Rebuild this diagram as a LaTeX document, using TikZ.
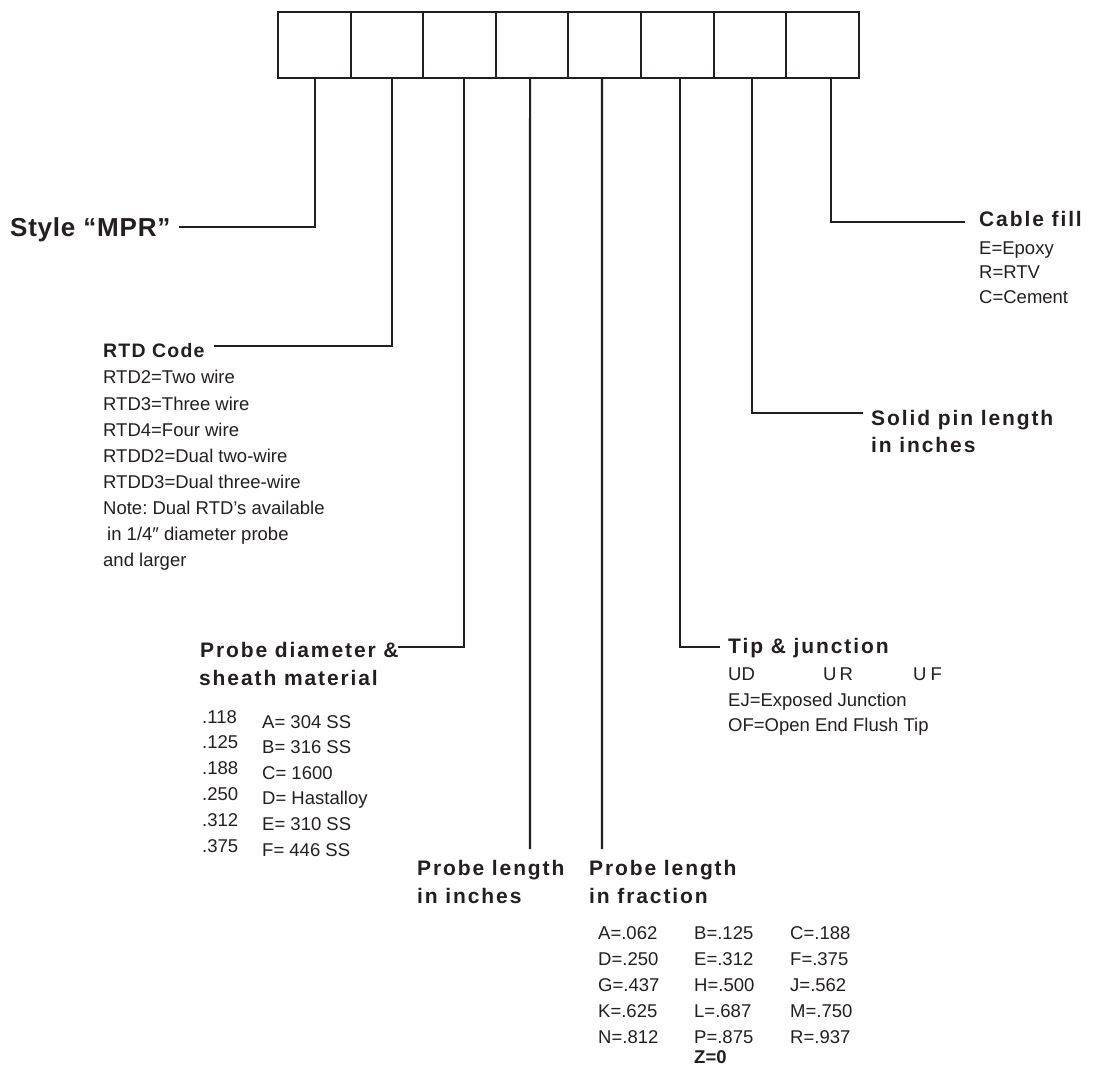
\documentclass[tikz,border=0pt]{standalone}
\usepackage{fontspec}
\setmainfont{Liberation Sans}
\newfontfamily\hdfont[LetterSpace=9]{Liberation Sans}
\newfontfamily\rtdfont[LetterSpace=6]{Liberation Sans}
\newfontfamily\mprfont[LetterSpace=3]{Liberation Sans}
\definecolor{ink}{RGB}{35,31,32}
\frenchspacing
\tikzset{
  hd/.style={inner sep=0pt, anchor=base west, text=ink, font=\hdfont\bfseries\fontsize{21}{21}\selectfont},
  tx/.style={inner sep=0pt, anchor=base west, text=ink, font=\fontsize{18.5}{18.5}\selectfont},
  wire/.style={draw=ink, line width=2.2pt, line join=miter},
  cell/.style={draw=ink, line width=2pt, minimum width=72.6pt, minimum height=66pt, inner sep=0pt, outer sep=0pt}
}
\begin{document}
\begin{tikzpicture}[x=1pt,y=-1pt]
\useasboundingbox[fill=white] (0,0) rectangle (1093,1067);
% code boxes
\foreach \i in {1,...,8}{
  \node[cell] (b\i) at ({278+72.6*(\i-0.5)}, 45) {};
}
% headings
\node[inner sep=0pt, anchor=base west, text=ink, font=\mprfont\bfseries\fontsize{26}{26}\selectfont] (mpr) at (10,237) {Style “MPR”};
\node[inner sep=0pt, anchor=base west, text=ink, font=\rtdfont\bfseries\fontsize{19.5}{19.5}\selectfont] (rtd) at (103,358) {RTD Code};
\node[hd] (pd) at (200,657) {Probe diameter \&};
\node[hd] (pd2) at (199,685) {sheath material};
\node[hd] (pli) at (417,875) {Probe length};
\node[hd] (pli2) at (417,903) {in inches};
\node[hd] (plf) at (589,875) {Probe length};
\node[hd] (plf2) at (589,903) {in fraction};
\node[hd] (tip) at (728,653) {Tip \& junction};
\node[hd] (sp) at (871,425) {Solid pin length};
\node[hd] (sp2) at (871,453) {in inches};
\node[hd] (cf) at (979,227) {Cable fill};
% RTD code list
\node[tx] (r1) at (103,384) {RTD2=Two wire};
\node[tx] (r2) at (103,410) {RTD3=Three wire};
\node[tx] (r3) at (103,436) {RTD4=Four wire};
\node[tx] (r4) at (103,462) {RTDD2=Dual two-wire};
\node[tx] (r5) at (103,488) {RTDD3=Dual three-wire};
\node[tx] (r6) at (103,514) {Note: Dual RTD’s available};
\node[tx] (r7) at (107,540) {in 1/4″ diameter probe};
\node[tx] (r8) at (103,566) {and larger};
% diameter / sheath table
\foreach \d/\m [count=\i] in {.118/A= 304 SS, .125/B= 316 SS, .188/C= 1600, .250/D= Hastalloy, .312/E= 310 SS, .375/F= 446 SS}{
  \node[tx] (dd\i) at (202, {723+25.8*(\i-1)}) {\d};
  \node[tx] (dm\i) at (262, {728+25.6*(\i-1)}) {\m};
}
% fraction table
\foreach \a/\b/\c [count=\i] in {A=.062/B=.125/C=.188, D=.250/E=.312/F=.375, G=.437/H=.500/J=.562, K=.625/L=.687/M=.750, N=.812/P=.875/R=.937}{
  \node[tx] (fa\i) at (598, {939+26*(\i-1)}) {\a};
  \node[tx] (fb\i) at (694, {939+26*(\i-1)}) {\b};
  \node[tx] (fc\i) at (790, {939+26*(\i-1)}) {\c};
}
\node[tx, font=\bfseries\fontsize{18.5}{18.5}\selectfont] (fz) at (694,1063) {Z=0};
% tip list
\node[tx] (t1) at (728,680) {UD};
\node[tx] (t2) at (823,680) {U\kern3pt R};
\node[tx] (t3) at (913,680) {U\kern4pt F};
\node[tx] (t4) at (728,706) {EJ=Exposed Junction};
\node[tx] (t5) at (728,731) {OF=Open End Flush Tip};
% cable fill list
\node[tx] (c1) at (979,255) {E=Epoxy};
\node[tx] (c2) at (979,279) {R=RTV};
\node[tx] (c3) at (979,304) {C=Cement};
% free ends of the two straight stems
\coordinate (e4) at (530,849);
\coordinate (e5) at (602,849);
% connectors
\draw[wire] ([xshift=1pt]b1.south) |- ([xshift=8pt,yshift=10pt]mpr.base east);
\draw[wire] ([xshift=5pt]b2.south) |- ([xshift=9pt,yshift=12pt]rtd.base east);
\draw[wire] ([xshift=4.5pt]b3.south) |- ([xshift=-1pt,yshift=10pt]pd.base east);
\draw[wire] ([xshift=-2pt]b4.south) -- (e4);
\draw[wire] ([xshift=-2.7pt]b5.south) -- (e5);
\draw[wire] ([xshift=2.7pt]b6.south) |- ([xshift=-8pt,yshift=6pt]tip.base west);
\draw[wire] ([xshift=2.1pt]b7.south) |- ([xshift=-8pt,yshift=12pt]sp.base west);
\draw[wire] ([xshift=8.5pt]b8.south) |- ([xshift=-14pt,yshift=5pt]cf.base west);
\end{tikzpicture}
\end{document}
